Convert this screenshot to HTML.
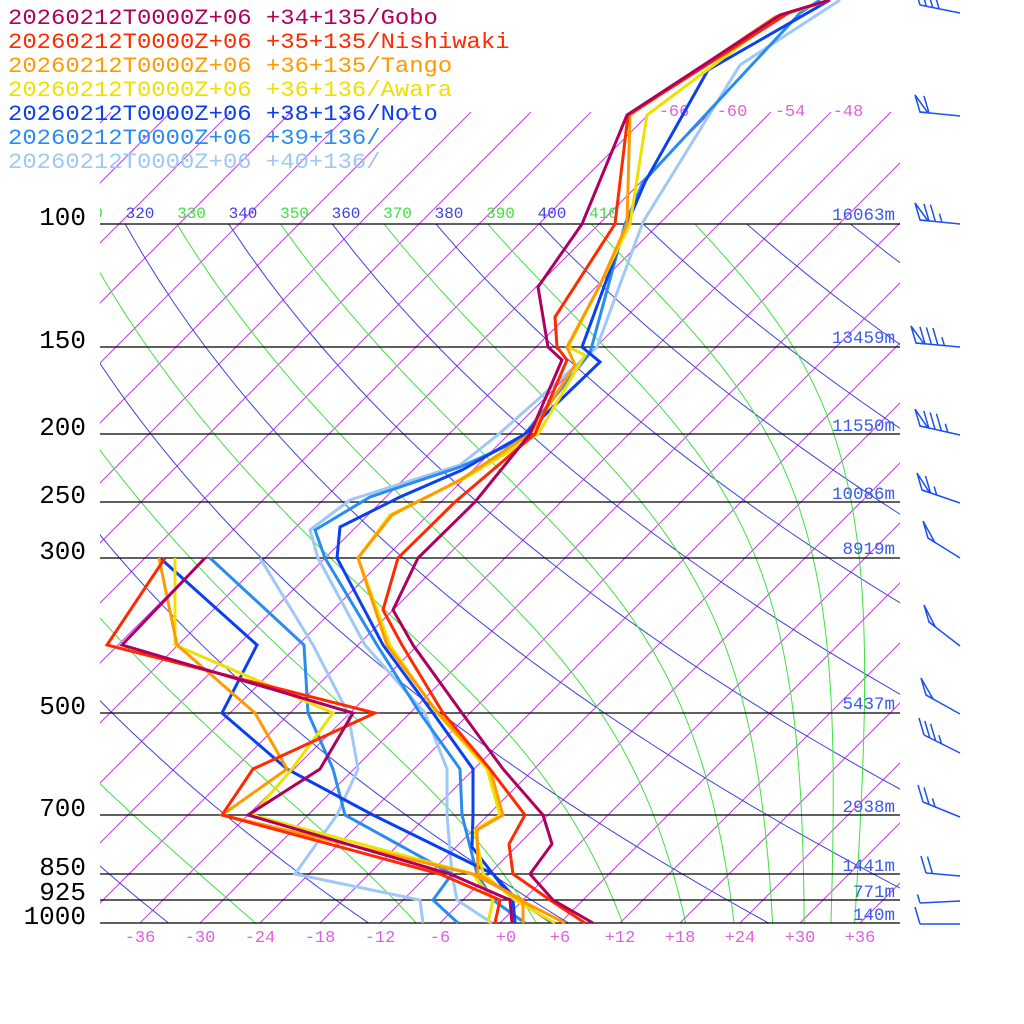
<!DOCTYPE html>
<html><head><meta charset="utf-8"><style>
html,body{margin:0;padding:0;background:#fff;}
svg{display:block;font-family:"Liberation Mono","DejaVu Sans Mono",monospace;}
</style></head><body>
<svg id="s" width="1024" height="1024" viewBox="0 0 1024 1024" xmlns="http://www.w3.org/2000/svg">
<defs>
<clipPath id="cp"><rect x="100" y="224" width="800" height="699"/></clipPath>
<clipPath id="ci"><rect x="100" y="112" width="800" height="811"/></clipPath>
</defs>
<g id="grid"></g>
<g id="plines" stroke="#000" stroke-width="1.3">
<line x1="100" y1="224" x2="900" y2="224"/><line x1="100" y1="347" x2="900" y2="347"/>
<line x1="100" y1="434" x2="900" y2="434"/><line x1="100" y1="502" x2="900" y2="502"/>
<line x1="100" y1="558" x2="900" y2="558"/><line x1="100" y1="713" x2="900" y2="713"/>
<line x1="100" y1="815" x2="900" y2="815"/><line x1="100" y1="874" x2="900" y2="874"/>
<line x1="100" y1="900" x2="900" y2="900"/><line x1="100" y1="923" x2="900" y2="923"/>
</g>
<g font-size="26" fill="#000" text-anchor="end">
<text x="86" y="225">100</text><text x="86" y="348">150</text><text x="86" y="435">200</text>
<text x="86" y="503">250</text><text x="86" y="559">300</text><text x="86" y="714">500</text>
<text x="86" y="816">700</text><text x="86" y="875">850</text><text x="86" y="900">925</text>
<text x="86" y="924">1000</text>
</g>
<g font-size="17.5" fill="#3a5af0" text-anchor="end">
<text x="895" y="220">16063m</text><text x="895" y="343">13459m</text><text x="895" y="431">11550m</text>
<text x="895" y="499">10086m</text><text x="895" y="554">8919m</text><text x="895" y="709">5437m</text>
<text x="895" y="812">2938m</text><text x="895" y="871">1441m</text><text x="895" y="897">771m</text>
<text x="895" y="920">140m</text>
</g>
<g font-size="17" fill="#e060e0" text-anchor="middle" id="tl"></g>
<g id="series" fill="none" stroke-width="3" stroke-linejoin="miter"></g>
<g id="barbs" stroke="#1a50f0" stroke-width="1.5" fill="none"></g>
<g font-size="22" id="legend"></g>
</svg>
<script>
var NS="http://www.w3.org/2000/svg";
function el(p,t,a,txt){var e=document.createElementNS(NS,t);for(var k in a)e.setAttribute(k,a[k]);if(txt!==undefined)e.textContent=txt;p.appendChild(e);return e;}
var grid=document.getElementById('grid');
function Y(p){return 923-303.6*Math.log(1000/p);}
function X(T,y){return 500+10*T+(923-y);}
var gi=el(grid,'g',{'clip-path':'url(#ci)',stroke:'#c040e0','stroke-width':'1'});
for(var T=-150;T<=42;T+=6){var x0=X(T,923),x1=X(T,112);el(gi,'line',{x1:x0,y1:923,x2:x1,y2:112});}
var tl=document.getElementById('tl');
for(var T=-36;T<=36;T+=6){el(tl,'text',{x:500+10*T+(T==0?6:0),y:942},(T>=0?'+':'')+T);}
[-66,-60,-54,-48].forEach(function(T,i){el(tl,'text',{x:674+58*i,y:116,'text-anchor':'middle'},''+T);});
var gd=el(grid,'g',{'clip-path':'url(#cp)',stroke:'#4040e0','stroke-width':'1',fill:'none'});
for(var th=180;th<=500;th+=20){var pts=[];for(var p=100;p<=1000;p+=10){var Tk=th*Math.pow(p/1000,0.2857);var y=Y(p);pts.push(X(Tk-273.15,y).toFixed(1)+','+y.toFixed(1));}
el(gd,'polyline',{points:pts.join(' ')});}
var gm=el(grid,'g',{'clip-path':'url(#cp)',stroke:'#40e040','stroke-width':'1',fill:'none'});
function rs(Tk,p){var Tc=Tk-273.15;var es=6.112*Math.exp(17.67*Tc/(Tc+243.5));return 0.622*es/(p-es);}
for(var th=250;th<=430;th+=20){var Tk=th*Math.pow(0.1,0.2857);var p=100;var pts=[];
while(p<=1000){var y=Y(p);pts.push(X(Tk-273.15,y).toFixed(1)+','+y.toFixed(1));
var dp=2;for(var i=0;i<5;i++){var r=rs(Tk,p);var d=(287*Tk+2.5e6*r)/(1005+2.5e6*2.5e6*r*0.622/(287*Tk*Tk))/p;Tk+=d*dp/5;p+=dp/5;}}
el(gm,'polyline',{points:pts.join(' ')});}
var labs=[[310,'#40e040'],[320,'#4040e0'],[330,'#40e040'],[340,'#4040e0'],[350,'#40e040'],[360,'#4040e0'],[370,'#40e040'],[380,'#4040e0'],[390,'#40e040'],[400,'#4040e0'],[410,'#40e040']];
var gl=el(grid,'g',{'font-size':'16','text-anchor':'middle'});
labs.forEach(function(l,i){var x=88.5+51.5*i;el(gl,'text',{x:x,y:218,fill:l[1]},''+l[0]);});
el(gl,'rect',{x:60,y:200,width:40,height:22,fill:'#fff'});
var S=document.getElementById('series');
function P(a){return a.map(function(q){return q.join(',');}).join(' ');}
var data=[
['#b0005f',[[593,923],[553,900],[530,874],[552,844],[543,815],[503,769],[462,713],[413,645],[393,610],[418,558],[475,502],[530,434],[562,360],[548,347],[538,287],[582,224],[627,115],[780,15],[830,0]],
 [[512,923],[510,900],[450,874],[248,815],[320,769],[353,713],[122,645],[205,558]]],
['#ff2a00',[[585,923],[550,900],[513,874],[509,844],[525,815],[490,769],[443,713],[402,645],[383,610],[398,558],[455,502],[535,434],[567,360],[557,347],[555,317],[615,224],[628,115],[790,12],[830,0]],
 [[495,923],[500,900],[440,874],[222,815],[253,769],[375,713],[107,645],[165,558]]],
['#ff9a00',[[565,923],[520,900],[478,874],[477,830],[503,815],[490,769],[438,713],[387,645],[358,558],[392,515],[460,480],[530,434],[575,365],[567,347],[600,285],[627,224],[630,115],[775,17],[830,0]],
 [[523,923],[523,900],[473,874],[222,815],[287,769],[255,713],[177,645],[159,558]]],
['#f0e000',[[555,923],[515,900],[483,874],[475,830],[500,815],[487,769],[437,713],[390,645],[358,558],[390,515],[465,478],[538,434],[585,355],[568,347],[600,285],[630,224],[647,115],[778,17],[830,0]],
 [[488,923],[493,900],[473,874],[252,815],[292,769],[333,713],[175,645],[175,558]]],
['#0a40f0',[[553,923],[517,900],[493,874],[472,847],[473,815],[473,769],[433,713],[383,645],[337,558],[340,527],[400,497],[462,470],[525,434],[600,362],[582,347],[627,224],[645,182],[708,70],[830,0]],
 [[515,923],[513,900],[493,874],[373,815],[287,769],[222,713],[257,645],[160,558]]],
['#2a8cf0',[[525,923],[493,900],[477,874],[462,815],[460,769],[420,713],[377,645],[325,558],[315,530],[370,497],[460,467],[520,440],[590,353],[625,224],[643,182],[800,13],[820,0]],
 [[458,923],[433,900],[452,874],[345,815],[333,769],[308,713],[304,645],[210,558]]],
['#9ec8f6',[[492,923],[457,900],[452,874],[447,815],[447,769],[425,713],[365,645],[318,558],[310,530],[350,500],[460,465],[500,433],[597,347],[643,222],[740,65],[840,0]],
 [[423,923],[420,900],[295,874],[337,815],[358,769],[348,713],[313,645],[260,558]]]
];
for(var i=data.length-1;i>=0;i--){var d=data[i];
el(S,'polyline',{points:P(d[2]),stroke:d[0]});el(S,'polyline',{points:P(d[1]),stroke:d[0]});}
var names=['+34+135/Gobo','+35+135/Nishiwaki','+36+135/Tango','+36+136/Awara','+38+136/Noto','+39+136/','+40+136/'];
var L=document.getElementById('legend');
names.forEach(function(n,i){el(L,'text',{x:8,y:24+24*i,fill:data[i][0],textLength:(n.length+18)*14.33,lengthAdjust:'spacingAndGlyphs'},'20260212T0000Z+06 '+n);});
var B=document.getElementById('barbs');
var barbs=[[13,920,5,[1,1,1,1]],[116,920,112,[2,1]],[224,920,220,[2,1,1,0.5]],[347,916,343,[2,1,1,1,0.5]],[435,920,426,[2,1,1,1,0.5]],[503,922,490,[2,1,0.5]],[558,928,538,[2]],[646,929,622,[2]],[714,926,695,[2]],[753,924,735,[1,1,1,0.5]],[817,923,802,[1,1,0.5]],[876,926,873,[1,1]],[901,920,903,[0.5]],[924,920,924,[1]]];
barbs.forEach(function(b){var ye=b[0],xs=b[1],ys=b[2];el(B,'line',{x1:960,y1:ye,x2:xs,y2:ys});
var dx=(960-xs),dy=(ye-ys),len=Math.sqrt(dx*dx+dy*dy),ux=dx/len,uy=dy/len;var pos=0;
b[3].forEach(function(k){var bx=xs+ux*pos,by=ys+uy*pos;
if(k==2){el(B,'polygon',{points:bx+','+by+' '+(bx-5)+','+(by-17)+' '+(bx+ux*8)+','+(by+uy*8)});pos+=9;}
else{var l=17*k;el(B,'line',{x1:bx,y1:by,x2:bx-5*k,y2:by-l});pos+=6.5;}});});
</script>
</body></html>
